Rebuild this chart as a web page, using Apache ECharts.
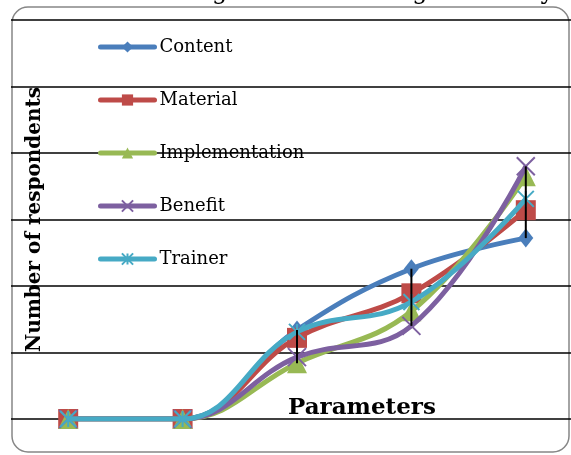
<!DOCTYPE html>
<html>
<head>
<meta charset="utf-8">
<script src="https://cdn.jsdelivr.net/npm/echarts@6/dist/echarts.min.js"></script>
<style>
  html, body { margin: 0; padding: 0; background: #fff; }
  #chart { width: 571px; height: 455px; }
</style>
</head>
<body>
<div id="chart"></div>
<script>
// Rating parameters along the x axis
const categories = ['1', '2', '3', '4', '5'];

// Respondent counts per series
const content        = [0, 0, 13.4, 22.6, 27.2];
const material       = [0, 0, 12.2, 18.9, 31.4];
const implementation = [0, 0, 8.4, 16.2, 36.5];
const benefit        = [0, 0, 9.3, 14.0, 38.0];
const trainer        = [0, 0, 13.1, 17.6, 33.1];

const seriesNames = ['Content', 'Material', 'Implementation', 'Benefit', 'Trainer'];
const seriesData = [content, material, implementation, benefit, trainer];
const colors = ['#4A7EBB', '#BE4B48', '#98B954', '#7D60A0', '#46AAC5'];

const SERIF = 'DejaVu Serif';

const symbols = [
  'diamond',
  'rect',
  'triangle',
  'path://M0,0L10,10M10,0L0,10',
  'path://M0,0L10,10M10,0L0,10M5,0L5,10'
];
const symbolSizes = [[15, 19], 20, 20, 18, 16];

// High-low span for every category (max and min across all series)
const highLow = categories.map((c, i) => {
  const vals = seriesData.map(s => s[i]);
  return [i, Math.min(...vals), Math.max(...vals)];
});

const lineSeries = seriesNames.map((name, k) => {
  const isCross = k >= 3;
  return {
    name,
    type: 'line',
    data: seriesData[k],
    smooth: 0.4,
    symbol: symbols[k],
    symbolSize: symbolSizes[k],
    showAllSymbol: true,
    lineStyle: { width: 5, color: colors[k] },
    itemStyle: {
      color: colors[k],
      borderColor: colors[k],
      borderWidth: isCross ? 2 : 0
    },
    z: 2 + k
  };
});

const chart = echarts.init(document.getElementById('chart'), null, { renderer: 'canvas' });

chart.setOption({
  animation: false,
  backgroundColor: '#fff',
  title: {
    text: 'Mean Rating for the Training Scores by Category',
    left: 65,
    top: -24,
    textStyle: { fontFamily: SERIF, fontSize: 24, fontWeight: 'normal', color: '#000' }
  },
  // plot area runs past the right edge of the canvas
  grid: { left: 11, width: 572, top: 20, height: 399, containLabel: false, outerBoundsMode: 'none' },
  legend: {
    orient: 'vertical',
    left: 98,
    top: 38,
    padding: 0,
    itemWidth: 54,
    itemHeight: 14,
    itemGap: 35,
    data: seriesNames,
    lineStyle: { width: 5, cap: 'round' },
    textStyle: { fontFamily: SERIF, fontSize: 18, color: '#000', lineHeight: 14 }
  },
  xAxis: {
    type: 'category',
    data: categories,
    boundaryGap: true,
    axisLine: { show: false },
    axisTick: { show: false },
    axisLabel: { show: false },
    splitLine: { show: false }
  },
  yAxis: {
    type: 'value',
    min: 0,
    max: 60,
    interval: 10,
    name: 'Number of respondents',
    nameLocation: 'middle',
    nameGap: -34,
    nameRotate: 90,
    nameTextStyle: { fontFamily: SERIF, fontSize: 20, fontWeight: 'bold', color: '#000' },
    axisLine: { show: false },
    axisTick: { show: false },
    axisLabel: { show: false },
    splitLine: { lineStyle: { color: '#000', width: 1.6 } }
  },
  graphic: [
    {
      type: 'rect',
      shape: { x: 12, y: 7, width: 557, height: 445, r: 16 },
      style: { fill: null, stroke: '#868686', lineWidth: 1.5 },
      silent: true,
      z: -1
    },
    {
      type: 'text',
      left: 288,
      top: 397,
      style: { text: 'Parameters', fontFamily: SERIF, fontSize: 23, fontWeight: 'bold', fill: '#000' },
      z: 20
    }
  ],
  series: lineSeries.concat([
    {
      name: 'High-Low',
      type: 'custom',
      data: highLow,
      z: 20,
      renderItem: function (params, api) {
        const lo = api.coord([api.value(0), api.value(1)]);
        const hi = api.coord([api.value(0), api.value(2)]);
        return {
          type: 'line',
          shape: { x1: hi[0], y1: hi[1], x2: lo[0], y2: lo[1] },
          style: { stroke: '#000', lineWidth: 2 }
        };
      }
    }
  ])
});
</script>
</body>
</html>
